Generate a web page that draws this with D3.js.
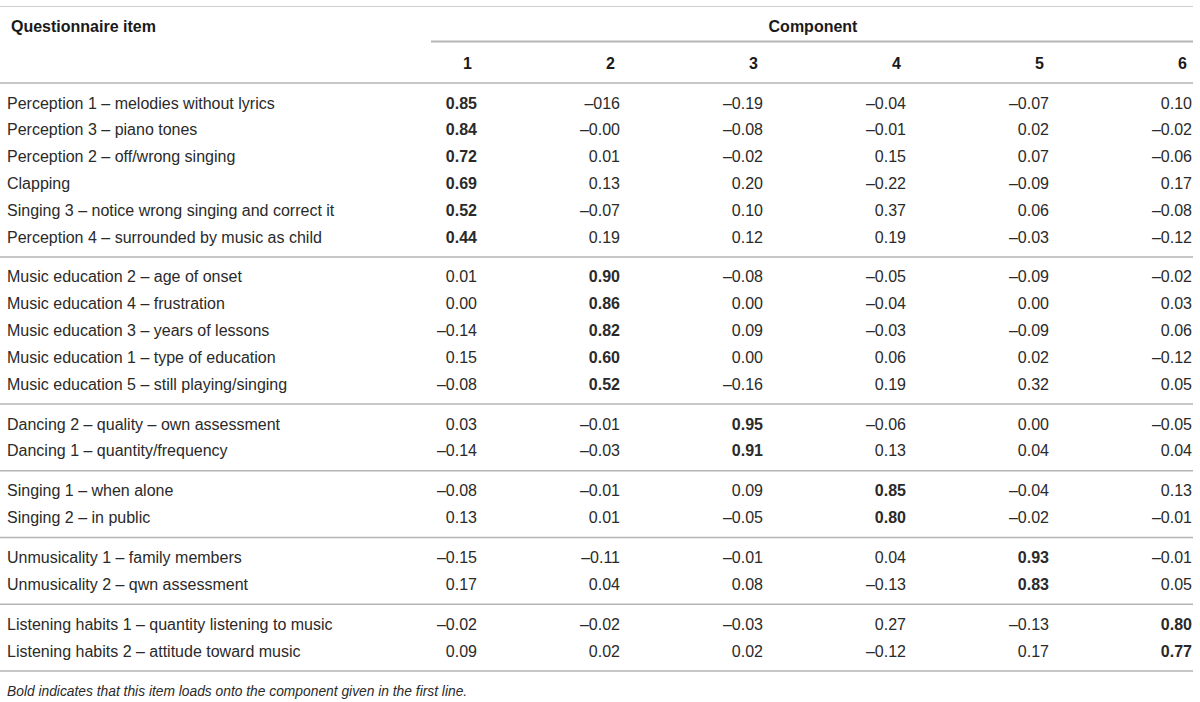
<!DOCTYPE html>
<html>
<head>
<meta charset="utf-8">
<script src="https://cdn.jsdelivr.net/npm/d3@7"></script>
<style>
  body { margin: 0; background: #fff; }
  text { font-family: 'Liberation Sans', Arial, sans-serif; fill: #2a2a2a; }
  text.head { fill: #1a1a1a; }
</style>
</head>
<body>
<script>
const w = 1200;
const h = 702;

// column keys of the loadings
const components = ['1', '2', '3', '4', '5', '6'];

// item groups; the bold column is the group index
const groups = [0, 0, 0, 0, 0, 0, 1, 1, 1, 1, 1, 2, 2, 3, 3, 4, 4, 5, 5];

const items = [
  'Perception 1 \u2013 melodies without lyrics',
  'Perception 3 \u2013 piano tones',
  'Perception 2 \u2013 off/wrong singing',
  'Clapping',
  'Singing 3 \u2013 notice wrong singing and correct it',
  'Perception 4 \u2013 surrounded by music as child',
  'Music education 2 \u2013 age of onset',
  'Music education 4 \u2013 frustration',
  'Music education 3 \u2013 years of lessons',
  'Music education 1 \u2013 type of education',
  'Music education 5 \u2013 still playing/singing',
  'Dancing 2 \u2013 quality \u2013 own assessment',
  'Dancing 1 \u2013 quantity/frequency',
  'Singing 1 \u2013 when alone',
  'Singing 2 \u2013 in public',
  'Unmusicality 1 \u2013 family members',
  'Unmusicality 2 \u2013 qwn assessment',
  'Listening habits 1 \u2013 quantity listening to music',
  'Listening habits 2 \u2013 attitude toward music'
];

// loadings as printed (kept as text, typos included)
const loadings = [
  ['0.85', '\u2013016', '\u20130.19', '\u20130.04', '\u20130.07', '0.10'],
  ['0.84', '\u20130.00', '\u20130.08', '\u20130.01', '0.02', '\u20130.02'],
  ['0.72', '0.01', '\u20130.02', '0.15', '0.07', '\u20130.06'],
  ['0.69', '0.13', '0.20', '\u20130.22', '\u20130.09', '0.17'],
  ['0.52', '\u20130.07', '0.10', '0.37', '0.06', '\u20130.08'],
  ['0.44', '0.19', '0.12', '0.19', '\u20130.03', '\u20130.12'],
  ['0.01', '0.90', '\u20130.08', '\u20130.05', '\u20130.09', '\u20130.02'],
  ['0.00', '0.86', '0.00', '\u20130.04', '0.00', '0.03'],
  ['\u20130.14', '0.82', '0.09', '\u20130.03', '\u20130.09', '0.06'],
  ['0.15', '0.60', '0.00', '0.06', '0.02', '\u20130.12'],
  ['\u20130.08', '0.52', '\u20130.16', '0.19', '0.32', '0.05'],
  ['0.03', '\u20130.01', '0.95', '\u20130.06', '0.00', '\u20130.05'],
  ['\u20130.14', '\u20130.03', '0.91', '0.13', '0.04', '0.04'],
  ['\u20130.08', '\u20130.01', '0.09', '0.85', '\u20130.04', '0.13'],
  ['0.13', '0.01', '\u20130.05', '0.80', '\u20130.02', '\u20130.01'],
  ['\u20130.15', '\u20130.11', '\u20130.01', '0.04', '0.93', '\u20130.01'],
  ['0.17', '0.04', '0.08', '\u20130.13', '0.83', '0.05'],
  ['\u20130.02', '\u20130.02', '\u20130.03', '0.27', '\u20130.13', '0.80'],
  ['0.09', '0.02', '0.02', '\u20130.12', '0.17', '0.77']
];

const footnote = 'Bold indicates that this item loads onto the component given in the first line.';

const svg = d3.select('body')
  .append('svg')
  .attr('width', w)
  .attr('height', h);

svg.append('rect').attr('width', w).attr('height', h).attr('fill', '#fff');

const fontSize = 16;
const lineColor = '#b5b5b5';

// x: right edge of each component column
const x = d3.scalePoint()
  .domain(components)
  .range([477, 1192]);

// y: slot index (rows plus half a row gap between groups)
const gap = 0.49;
const slot = (d, i) => i + groups[i] * gap;
const y = d3.scaleLinear()
  .domain([0, 1])
  .range([103, 129.8]);

const baseline = 5.5; // text vertical centre -> baseline

// rules
svg.append('line')
  .attr('x1', 0).attr('x2', 1193)
  .attr('y1', 6.5).attr('y2', 6.5)
  .attr('stroke', '#cfcfcf').attr('stroke-width', 1);

svg.append('line')
  .attr('x1', 431).attr('x2', 1193)
  .attr('y1', 41.5).attr('y2', 41.5)
  .attr('stroke', lineColor).attr('stroke-width', 2);

svg.append('line')
  .attr('x1', 0).attr('x2', 1193)
  .attr('y1', 83).attr('y2', 83)
  .attr('stroke', lineColor).attr('stroke-width', 1.5);

// separators between groups and at the bottom
const lastInGroup = groups.map((g, i) => (i === groups.length - 1 || groups[i + 1] !== g) ? i : -1)
  .filter(i => i >= 0);

svg.selectAll('line.sep')
  .data(lastInGroup)
  .enter()
  .append('line')
  .attr('class', 'sep')
  .attr('x1', 0).attr('x2', 1193)
  .attr('y1', i => y(slot(null, i) + (1 + gap) / 2))
  .attr('y2', i => y(slot(null, i) + (1 + gap) / 2))
  .attr('stroke', lineColor).attr('stroke-width', 1.5);

// headers
svg.append('text')
  .attr('class', 'head')
  .text('Questionnaire item')
  .attr('x', 11).attr('y', 26.5 + baseline)
  .style('font-size', fontSize + 'px')
  .style('font-weight', 'bold');

svg.append('text')
  .attr('class', 'head')
  .text('Component')
  .attr('x', 813).attr('y', 26.5 + baseline)
  .attr('text-anchor', 'middle')
  .style('font-size', fontSize + 'px')
  .style('font-weight', 'bold');

svg.selectAll('text.comp')
  .data(components)
  .enter()
  .append('text')
  .attr('class', 'comp head')
  .text(d => d)
  .attr('x', d => x(d) - 5)
  .attr('y', 63 + baseline)
  .attr('text-anchor', 'end')
  .style('font-size', fontSize + 'px')
  .style('font-weight', 'bold');

// rows
const rows = svg.selectAll('g.row')
  .data(items)
  .enter()
  .append('g')
  .attr('class', 'row')
  .attr('transform', (d, i) => `translate(0, ${y(slot(d, i)) + baseline})`);

rows.append('text')
  .text(d => d)
  .attr('x', 7)
  .style('font-size', fontSize + 'px');

rows.selectAll('text.val')
  .data((d, i) => loadings[i].map((v, j) => ({ v, j, bold: groups[i] === j })))
  .enter()
  .append('text')
  .attr('class', 'val')
  .text(d => d.v)
  .attr('x', d => x(components[d.j]))
  .attr('text-anchor', 'end')
  .style('font-size', fontSize + 'px')
  .style('font-weight', d => d.bold ? 'bold' : 'normal');

svg.append('text')
  .text(footnote)
  .attr('x', 7)
  .attr('y', 690 + baseline)
  .style('font-size', '13.8px')
  .style('font-style', 'italic');
</script>
</body>
</html>
